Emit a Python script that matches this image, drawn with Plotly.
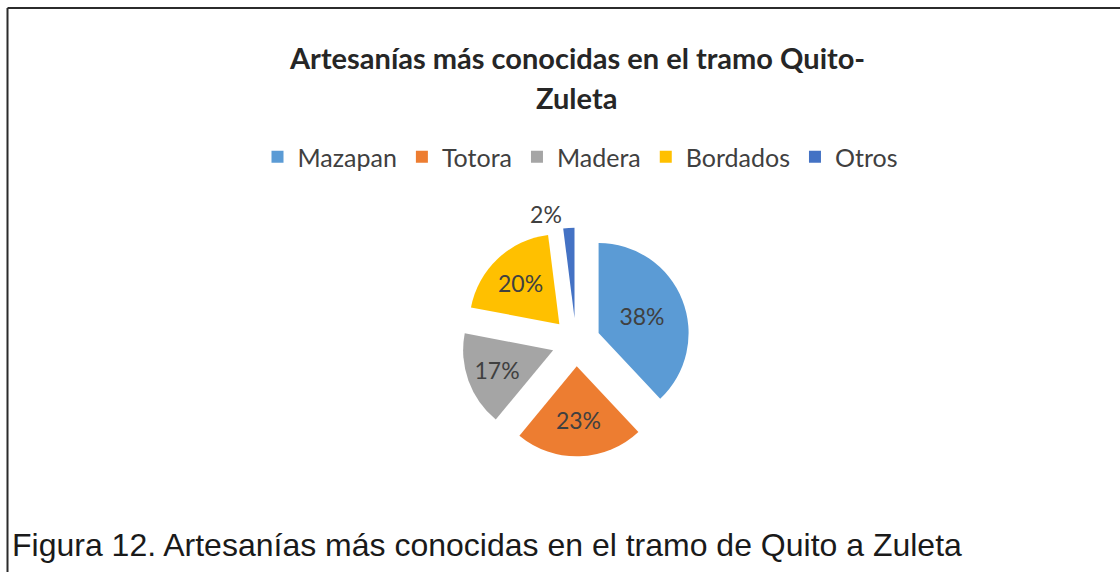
import plotly.graph_objects as go

categories = ["Mazapan", "Totora", "Madera", "Bordados", "Otros"]
values = [38, 23, 17, 20, 2]
colors = ["#5B9BD5", "#ED7D31", "#A5A5A5", "#FFC000", "#4472C4"]
text_positions = ["inside", "inside", "inside", "inside", "outside"]

title_line1 = "Artesanías más conocidas en el tramo Quito-"
title_line2 = "Zuleta"
caption = "Figura 12. Artesanías más conocidas en el tramo de Quito a Zuleta"

W, H = 1120, 572

fig = go.Figure()
fig.add_trace(go.Pie(
    labels=categories,
    values=values,
    sort=False,
    direction="clockwise",
    rotation=0,
    pull=[0.27] * len(values),
    marker=dict(colors=colors, line=dict(width=0)),
    texttemplate="%{percent:.0%}",
    textposition=text_positions,
    insidetextorientation="horizontal",
    textfont=dict(family="Lato", size=23, color="#404040"),
    domain=dict(x=[461.7 / W, 690.3 / W], y=[115.7 / H, 344.3 / H]),
    hoverinfo="label+percent",
))

fig.update_layout(
    width=W, height=H,
    margin=dict(l=0, r=0, t=0, b=0),
    paper_bgcolor="white",
    plot_bgcolor="white",
    showlegend=True,
    legend=dict(
        orientation="h",
        x=580 / W, xanchor="center",
        y=1 - 157 / H, yanchor="middle",
        font=dict(family="Lato", size=25, color="#404040"),
        itemwidth=30,
        traceorder="normal",
    ),
    annotations=[
        dict(text="<b>" + title_line1 + "</b>", x=577 / W, y=1 - 57 / H, xref="paper", yref="paper",
             xanchor="center", yanchor="middle", showarrow=False,
             font=dict(family="Lato", size=29, color="#262626")),
        dict(text="<b>" + title_line2 + "</b>", x=576 / W, y=1 - 97 / H, xref="paper", yref="paper",
             xanchor="center", yanchor="middle", showarrow=False,
             font=dict(family="Lato", size=29, color="#262626")),
        dict(text=caption, x=10 / W, y=1 - 545 / H, xref="paper", yref="paper",
             xanchor="left", yanchor="middle", showarrow=False,
             font=dict(family="Liberation Sans", size=32, color="#1a1a1a")),
    ],
    shapes=[
        dict(type="line", xref="paper", yref="paper", x0=7.5 / W, x1=1, y0=1 - 8 / H, y1=1 - 8 / H,
             line=dict(color="#2b2b2b", width=2)),
        dict(type="line", xref="paper", yref="paper", x0=7.5 / W, x1=7.5 / W, y0=0, y1=1 - 8 / H,
             line=dict(color="#2b2b2b", width=2)),
    ],
)

fig.write_html("out.html", config={"displayModeBar": False},
               post_script="document.body.style.margin='0';")
